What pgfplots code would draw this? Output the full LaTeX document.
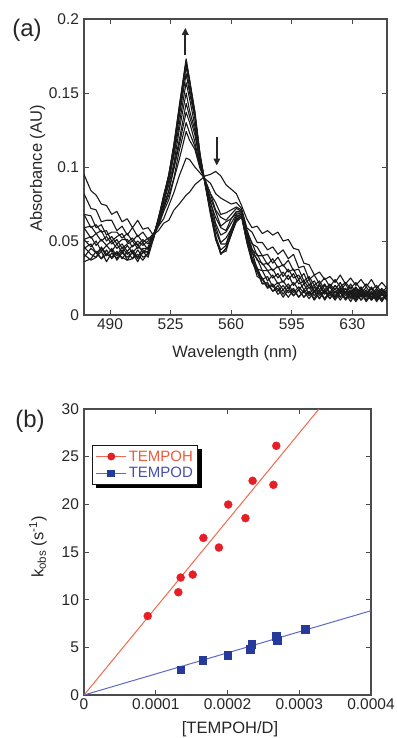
\documentclass[border=0pt]{standalone}
\usepackage{pgfplots}
\pgfplotsset{compat=1.18}
\usepackage{pgfplotstable}
\usepackage{fontspec}
\setmainfont{Liberation Sans}
\usetikzlibrary{arrows.meta,backgrounds}

\definecolor{ohmark}{RGB}{232,30,38}
\definecolor{ohline}{RGB}{242,105,75}
\definecolor{ohtext}{RGB}{240,90,60}
\definecolor{odmark}{RGB}{38,58,155}
\definecolor{odline}{RGB}{95,105,195}
\definecolor{odtext}{RGB}{70,80,170}
\definecolor{axgray}{RGB}{75,75,75}

\pgfplotstableread{
w c0 c1 c2 c3 c4 c5 c6 c7 c8 c9 c10 c11 c12
475 0.095 0.082 0.068 0.068 0.059 0.059 0.051 0.051 0.045 0.046 0.039 0.036 0.041
479 0.084 0.072 0.067 0.059 0.060 0.052 0.053 0.046 0.048 0.041 0.045 0.038 0.037
482 0.081 0.071 0.059 0.061 0.055 0.055 0.047 0.050 0.042 0.039 0.042 0.043 0.039
485 0.075 0.063 0.061 0.056 0.057 0.050 0.051 0.043 0.045 0.046 0.038 0.038 0.043
488 0.074 0.064 0.054 0.057 0.050 0.053 0.047 0.047 0.040 0.041 0.044 0.041 0.036
491 0.068 0.064 0.056 0.050 0.053 0.048 0.050 0.043 0.045 0.039 0.038 0.044 0.042
494 0.070 0.057 0.056 0.053 0.048 0.051 0.045 0.048 0.040 0.043 0.042 0.037 0.038
497 0.063 0.060 0.052 0.055 0.051 0.045 0.048 0.042 0.046 0.038 0.039 0.042 0.044
500 0.065 0.054 0.055 0.049 0.051 0.048 0.043 0.047 0.041 0.043 0.037 0.039 0.037
503 0.059 0.059 0.050 0.052 0.046 0.050 0.047 0.042 0.044 0.038 0.043 0.042 0.038
506 0.064 0.053 0.054 0.047 0.050 0.045 0.048 0.046 0.039 0.044 0.038 0.036 0.041
509 0.058 0.056 0.049 0.051 0.047 0.049 0.042 0.044 0.045 0.039 0.042 0.043 0.037
512 0.059 0.051 0.052 0.048 0.050 0.044 0.046 0.042 0.045 0.041 0.043 0.039 0.042
515 0.054 0.055 0.053 0.054 0.053 0.052 0.054 0.053 0.051 0.053 0.052 0.051 0.053
518 0.057 0.060 0.060 0.061 0.063 0.061 0.063 0.065 0.063 0.065 0.066 0.065 0.064
521 0.062 0.065 0.070 0.072 0.072 0.074 0.076 0.077 0.077 0.080 0.080 0.079 0.081
524 0.064 0.074 0.078 0.081 0.084 0.084 0.088 0.091 0.091 0.094 0.095 0.095 0.094
527 0.071 0.083 0.092 0.093 0.099 0.101 0.103 0.108 0.110 0.112 0.115 0.115 0.116
530 0.075 0.094 0.105 0.111 0.115 0.118 0.125 0.129 0.134 0.136 0.139 0.141 0.140
534 0.081 0.106 0.124 0.130 0.137 0.143 0.150 0.157 0.163 0.168 0.171 0.173 0.172
536 0.083 0.105 0.118 0.123 0.130 0.134 0.138 0.146 0.150 0.153 0.158 0.158 0.159
539 0.088 0.100 0.112 0.114 0.117 0.122 0.125 0.128 0.133 0.135 0.135 0.138 0.137
542 0.091 0.096 0.099 0.100 0.101 0.103 0.104 0.105 0.106 0.107 0.108 0.108 0.109
545 0.094 0.092 0.091 0.091 0.090 0.090 0.089 0.089 0.089 0.088 0.088 0.088 0.089
548 0.095 0.089 0.082 0.082 0.079 0.076 0.077 0.073 0.071 0.071 0.070 0.068 0.070
551 0.097 0.082 0.076 0.071 0.070 0.066 0.062 0.060 0.057 0.053 0.054 0.052 0.051
554 0.094 0.079 0.068 0.066 0.060 0.059 0.054 0.049 0.048 0.044 0.041 0.041 0.042
557 0.088 0.077 0.069 0.064 0.063 0.057 0.056 0.052 0.048 0.047 0.045 0.045 0.043
560 0.085 0.075 0.071 0.068 0.065 0.065 0.062 0.058 0.058 0.056 0.054 0.054 0.055
563 0.082 0.076 0.073 0.072 0.070 0.069 0.068 0.067 0.066 0.065 0.064 0.064 0.063
566 0.074 0.072 0.071 0.070 0.070 0.069 0.069 0.068 0.068 0.067 0.067 0.067 0.066
569 0.065 0.059 0.058 0.056 0.055 0.056 0.054 0.051 0.053 0.051 0.049 0.051 0.050
572 0.059 0.056 0.048 0.049 0.044 0.045 0.042 0.043 0.039 0.039 0.036 0.038 0.036
575 0.060 0.049 0.046 0.040 0.041 0.037 0.038 0.031 0.032 0.029 0.031 0.026 0.029
578 0.055 0.049 0.040 0.040 0.034 0.035 0.030 0.030 0.024 0.025 0.021 0.024 0.021
581 0.057 0.044 0.041 0.034 0.035 0.030 0.030 0.023 0.026 0.019 0.022 0.018 0.021
584 0.054 0.046 0.035 0.038 0.030 0.031 0.025 0.027 0.019 0.021 0.016 0.020 0.016
587 0.056 0.041 0.039 0.032 0.033 0.025 0.028 0.021 0.022 0.016 0.020 0.014 0.018
590 0.050 0.044 0.033 0.034 0.026 0.029 0.022 0.023 0.017 0.020 0.014 0.017 0.012
593 0.051 0.038 0.037 0.029 0.031 0.024 0.027 0.018 0.021 0.015 0.019 0.012 0.017
596 0.045 0.041 0.030 0.031 0.025 0.028 0.020 0.022 0.015 0.018 0.013 0.017 0.013
599 0.044 0.032 0.031 0.024 0.027 0.021 0.024 0.017 0.019 0.012 0.017 0.012 0.017
602 0.035 0.033 0.023 0.028 0.021 0.023 0.017 0.021 0.015 0.017 0.012 0.016 0.012
605 0.034 0.024 0.026 0.020 0.024 0.018 0.021 0.014 0.019 0.013 0.016 0.011 0.016
608 0.027 0.027 0.020 0.023 0.016 0.020 0.015 0.019 0.013 0.016 0.010 0.016 0.011
611 0.029 0.021 0.023 0.017 0.021 0.015 0.020 0.013 0.017 0.011 0.015 0.011 0.017
614 0.024 0.025 0.017 0.021 0.015 0.020 0.014 0.017 0.011 0.017 0.011 0.016 0.010
617 0.026 0.019 0.021 0.015 0.020 0.015 0.019 0.013 0.016 0.011 0.016 0.011 0.015
620 0.022 0.024 0.017 0.020 0.015 0.020 0.013 0.018 0.012 0.016 0.011 0.016 0.010
623 0.027 0.019 0.022 0.016 0.019 0.015 0.018 0.012 0.017 0.012 0.016 0.010 0.015
626 0.021 0.022 0.015 0.021 0.015 0.018 0.013 0.018 0.011 0.016 0.010 0.015 0.011
629 0.025 0.018 0.021 0.015 0.019 0.014 0.017 0.012 0.016 0.011 0.014 0.009 0.015
632 0.020 0.022 0.015 0.019 0.013 0.018 0.012 0.017 0.011 0.015 0.009 0.015 0.010
635 0.024 0.017 0.019 0.014 0.018 0.013 0.017 0.012 0.016 0.010 0.014 0.010 0.015
638 0.019 0.021 0.014 0.019 0.013 0.017 0.012 0.016 0.010 0.015 0.010 0.014 0.009
641 0.024 0.017 0.019 0.014 0.018 0.012 0.016 0.011 0.015 0.010 0.015 0.010 0.014
644 0.018 0.020 0.014 0.018 0.012 0.017 0.012 0.016 0.011 0.014 0.009 0.014 0.010
647 0.022 0.015 0.018 0.014 0.017 0.013 0.017 0.011 0.015 0.009 0.014 0.010 0.015
650 0.018 0.019 0.014 0.017 0.013 0.016 0.012 0.015 0.011 0.014 0.010 0.014 0.010
}\spectra

\pgfplotstableread{
x y
0.0000888 8.29
0.0001315 10.78
0.0001347 12.32
0.0001515 12.63
0.0001664 16.48
0.0001880 15.47
0.0002010 19.98
0.0002250 18.55
0.0002350 22.47
0.0002640 22.05
0.0002680 26.14
}\tempoh

\pgfplotstableread{
x y
0.0001347 2.66
0.0001654 3.67
0.0002000 4.20
0.0002320 4.80
0.0002337 5.35
0.0002676 6.19
0.0002695 5.77
0.0003080 6.90
}\tempod

\begin{document}
\begin{tikzpicture}
\useasboundingbox (0pt,0pt) rectangle (396pt,738pt);
\pgfplotsset{
  every axis/.append style={
    scale only axis,
    axis line style={axgray, line width=1.1pt},
    tick style={axgray, line width=0.9pt},
    major tick length=5pt,
    tick align=inside,
    tick label style={font=\fontsize{15.5}{18}\selectfont, text=black!85},
    yticklabel style={xshift=-1.5pt},
    /pgf/number format/assume math mode=true,
  }
}
% ---------- panel (a)
\begin{axis}[at={(84pt,423pt)}, anchor=south west, width=303pt, height=296pt,
  xmin=475, xmax=650, ymin=0, ymax=0.2,
  xtick={490,525,560,595,630}, xticklabels={490,525,560,595,630},
  ytick={0,0.05,0.1,0.15,0.2}, yticklabels={0,0.05,0.1,0.15,0.2}]
\pgfplotsinvokeforeach{0,...,12}{
  \addplot[black!90, line width=1.1pt, no marks, line join=round] table[x=w,y=c#1]{\spectra};
}
\draw[-{Triangle[length=7pt,width=6.5pt]}, line width=2pt, black!85]
  (axis cs:533.5,0.1757) -- (axis cs:533.5,0.1940);
\draw[-{Triangle[length=7pt,width=6.5pt]}, line width=2pt, black!85]
  (axis cs:551.7,0.1205) -- (axis cs:551.7,0.1010);
\end{axis}
\node[font=\fontsize{24}{28}\selectfont, text=black!85] at (27pt,708pt) {(a)};
\node[rotate=90, font=\fontsize{16.5}{20}\selectfont, text=black!85] at (37.5pt,569.5pt) {Absorbance (AU)};
\node[font=\fontsize{16.5}{20}\selectfont, text=black!85] at (235pt,385pt) {Wavelength (nm)};

% ---------- panel (b)
\begin{axis}[at={(84pt,43pt)}, anchor=south west, width=287pt, height=286pt,
  xmin=0, xmax=0.0004, ymin=0, ymax=30, scaled x ticks=false,
  xtick={0,0.0001,0.0002,0.0003,0.0004},
  xticklabels={0,0.0001,0.0002,0.0003,0.0004},
  ytick={0,5,10,15,20,25,30}, yticklabels={0,5,10,15,20,25,30},
  legend style={name=leg, at={(0.029,0.874)}, anchor=north west, draw=black!90,
    line width=1pt, fill=white,
    font=\fontsize{15}{17}\selectfont, inner sep=3pt, row sep=1pt,
    cells={anchor=west}}]
\addplot[ohline, line width=1pt, forget plot] coordinates {(0,0) (0.0003275,30)};
\addplot[odline, line width=1pt, forget plot] coordinates {(0,0) (0.0004,8.84)};
\addplot[only marks, mark=*, mark size=4pt, color=ohmark,
  legend image code/.code={
    \draw[ohline, line width=1pt] (0pt,0pt) -- (30pt,0pt);
    \fill[ohmark] (15pt,0pt) circle (3.4pt);}] table {\tempoh};
\addlegendentry{\textcolor{ohtext}{TEMPOH}}
\addplot[only marks, mark=square*, mark size=3.8pt, color=odmark,
  legend image code/.code={
    \draw[odline, line width=1pt] (0pt,0pt) -- (30pt,0pt);
    \fill[odmark] (11.6pt,-3.4pt) rectangle (18.4pt,3.4pt);}] table {\tempod};
\addlegendentry{\textcolor{odtext}{TEMPOD}}
\end{axis}
\begin{scope}[on background layer]
\fill[black] ([xshift=3.5pt,yshift=-3.5pt]leg.south west) rectangle ([xshift=3.5pt,yshift=-3.5pt]leg.north east);
\end{scope}
\node[font=\fontsize{24}{28}\selectfont, text=black!85] at (30pt,317pt) {(b)};
\node[rotate=90, font=\fontsize{16.5}{20}\selectfont, text=black!85] at (38pt,191pt)
  {k\textsubscript{obs} (s\textsuperscript{-1})};
\node[font=\fontsize{16.5}{20}\selectfont, text=black!85] at (230pt,9pt) {[TEMPOH/D]};
\end{tikzpicture}
\end{document}
